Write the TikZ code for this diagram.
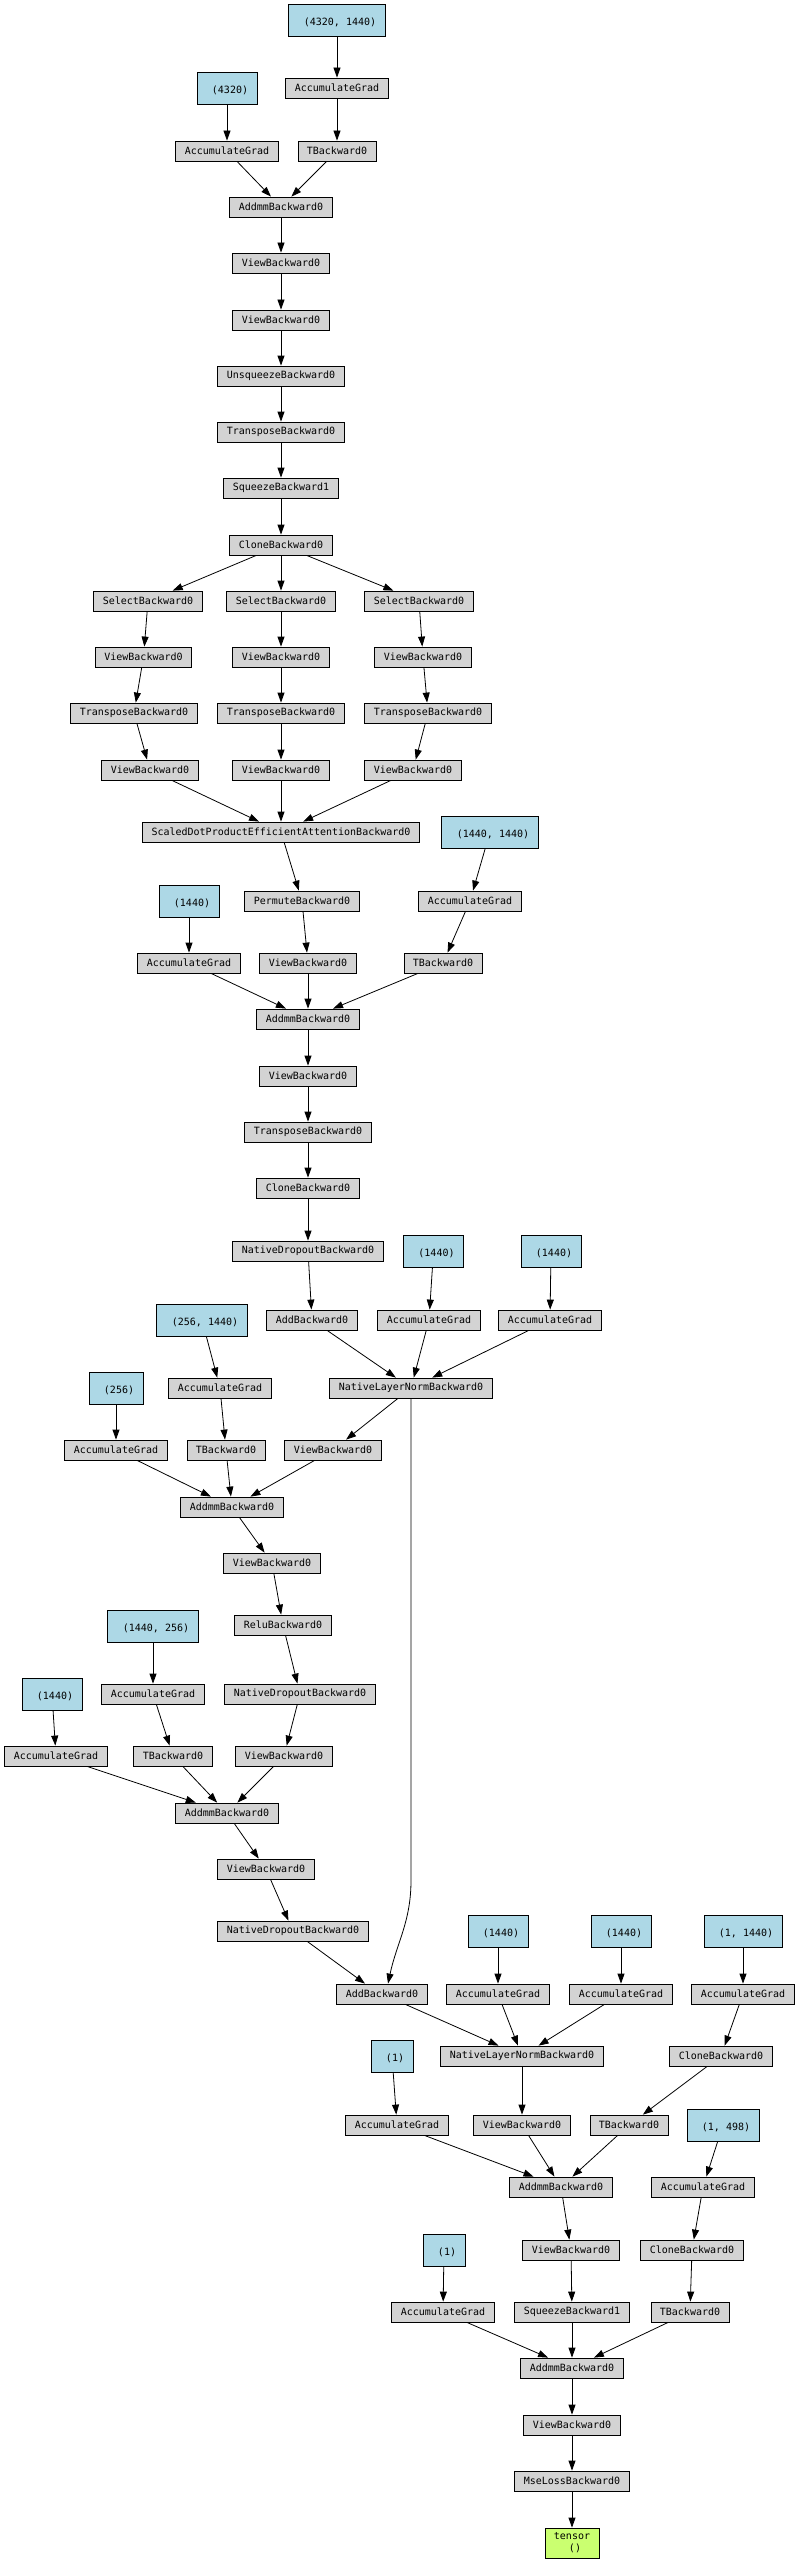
\documentclass[tikz,border=0pt]{standalone}
\usepackage{fontspec}
\setmonofont{DejaVu Sans Mono}
\usetikzlibrary{arrows.meta}
\definecolor{opgray}{RGB}{211,211,211}
\definecolor{paramblue}{RGB}{173,216,230}
\definecolor{outgreen}{RGB}{202,255,112}
\tikzset{
	opbox/.style={draw, line width=0.8pt, fill=opgray, font=\ttfamily\fontsize{10}{12}\selectfont, inner xsep=9pt, inner ysep=0pt, minimum height=20pt},
	parambox/.style={opbox, fill=paramblue, align=center, minimum height=32pt},
	outbox/.style={opbox, fill=outgreen, align=center, minimum height=30pt},
	edge/.style={->, line width=0.8pt}
}
\newcommand{\shp}[1]{\mbox{}\\\hphantom{0}#1}

\begin{document}
\begin{tikzpicture}[x=1pt, y=-1pt, >={Triangle[length=10pt,width=7pt]}]
		\useasboundingbox (0,0) rectangle (795,2563);
		% first linear layer
		\node[parambox] (p1) at (337,20) {\shp{(4320, 1440)}};
		\node[parambox] (p2) at (227,88) {\shp{(4320)}}; \node[opbox] (ag2) at (337,88) {AccumulateGrad};
		\node[opbox] (ag1) at (227,151) {AccumulateGrad}; \node[opbox] (t1) at (337,151) {TBackward0};
		\node[opbox] (addmm1) at (281,207) {AddmmBackward0};
		\node[opbox] (view1) at (281,263) {ViewBackward0};
		\node[opbox] (view2) at (281,320) {ViewBackward0};
		\node[opbox] (unsq) at (281,376) {UnsqueezeBackward0};
		\node[opbox] (tr1) at (281,432) {TransposeBackward0};
		\node[opbox] (sq1) at (281,488) {SqueezeBackward1};
		\node[opbox] (clone1) at (281,545) {CloneBackward0};
		% q, k, v
		\node[opbox] (selL) at (148,601) {SelectBackward0}; \node[opbox] (selM) at (281,601) {SelectBackward0}; \node[opbox] (selR) at (419,601) {SelectBackward0};
		\node[opbox] (viewL) at (143.5,657) {ViewBackward0}; \node[opbox] (viewM) at (281,657) {ViewBackward0}; \node[opbox] (viewR) at (423,657) {ViewBackward0};
		\node[opbox] (trL) at (134,713) {TransposeBackward0}; \node[opbox] (trM) at (281,713) {TransposeBackward0}; \node[opbox] (trR) at (428,713) {TransposeBackward0};
		\node[opbox] (vbL) at (150,770) {ViewBackward0}; \node[opbox] (vbM) at (281,770) {ViewBackward0}; \node[opbox] (vbR) at (413,770) {ViewBackward0};
		\node[opbox] (sdpa) at (281,832) {ScaledDotProductEfficientAttentionBackward0};
		\node[parambox] (p3) at (490,832) {\shp{(1440, 1440)}};
		% out projection
		\node[parambox] (p4) at (189,901) {\shp{(1440)}}; \node[opbox] (perm) at (302,901) {PermuteBackward0}; \node[opbox] (ag3) at (470,901) {AccumulateGrad};
		\node[opbox] (ag4) at (189,963) {AccumulateGrad}; \node[opbox] (view3) at (308,963) {ViewBackward0}; \node[opbox] (t2) at (443,963) {TBackward0};
		\node[opbox] (addmm2) at (308,1019) {AddmmBackward0};
		\node[opbox] (view4) at (308,1076) {ViewBackward0};
		\node[opbox] (tr2) at (308,1132) {TransposeBackward0};
		\node[opbox] (clone2) at (308,1188) {CloneBackward0};
		\node[opbox] (drop1) at (308,1251) {NativeDropoutBackward0};
		\node[parambox] (p5) at (433.5,1251) {\shp{(1440)}}; \node[parambox] (p6) at (551,1251) {\shp{(1440)}};
		% first layer norm
		\node[parambox] (p7) at (202,1320) {\shp{(256, 1440)}};
		\node[opbox] (add1) at (312,1320) {AddBackward0}; \node[opbox] (ag5) at (429,1320) {AccumulateGrad}; \node[opbox] (ag6) at (550,1320) {AccumulateGrad};
		\node[parambox] (p8) at (116,1388) {\shp{(256)}}; \node[opbox] (ag7) at (220,1388) {AccumulateGrad};
		\node[opbox] (nln1) at (411,1388) {NativeLayerNormBackward0};
		\node[opbox] (ag8) at (116,1450) {AccumulateGrad}; \node[opbox] (t3) at (226,1450) {TBackward0}; \node[opbox] (view5) at (333,1450) {ViewBackward0};
		% feed forward
		\node[opbox] (addmm3) at (232,1507) {AddmmBackward0};
		\node[opbox] (view6) at (272,1563) {ViewBackward0};
		\node[parambox] (p9) at (153,1626) {\shp{(1440, 256)}}; \node[opbox] (relu) at (283,1625) {ReluBackward0};
		\node[parambox] (p10) at (52,1694) {\shp{(1440)}}; \node[opbox] (ag9) at (153,1694) {AccumulateGrad}; \node[opbox] (drop2) at (300,1694) {NativeDropoutBackward0};
		\node[opbox] (ag10) at (56,1756) {AccumulateGrad}; \node[opbox] (t4) at (173,1756) {TBackward0}; \node[opbox] (view7) at (284,1756) {ViewBackward0};
		\node[opbox] (addmm4) at (227,1813) {AddmmBackward0};
		\node[opbox] (view8) at (266,1869) {ViewBackward0};
		\node[opbox] (drop3) at (293,1931) {NativeDropoutBackward0};
		\node[parambox] (p11) at (498,1931) {\shp{(1440)}}; \node[parambox] (p12) at (621,1931) {\shp{(1440)}}; \node[parambox] (p13) at (743,1931) {\shp{(1, 1440)}};
		% second layer norm and head
		\node[opbox] (add2) at (382,1994) {AddBackward0}; \node[opbox] (ag11) at (498,1994) {AccumulateGrad}; \node[opbox] (ag12) at (621,1994) {AccumulateGrad}; \node[opbox] (ag13) at (743,1994) {AccumulateGrad};
		\node[parambox] (p14) at (392,2056) {\shp{(1)}}; \node[opbox] (nln2) at (522,2056) {NativeLayerNormBackward0}; \node[opbox] (clone3) at (721,2056) {CloneBackward0};
		\node[opbox] (ag14) at (397,2125) {AccumulateGrad}; \node[opbox] (view9) at (522,2125) {ViewBackward0}; \node[opbox] (t5) at (629,2125) {TBackward0};
		\node[parambox] (p15) at (723,2125) {\shp{(1, 498)}};
		\node[opbox] (addmm5) at (561,2187) {AddmmBackward0}; \node[opbox] (ag15) at (703,2187) {AccumulateGrad};
		\node[parambox] (p16) at (444,2250) {\shp{(1)}}; \node[opbox] (view10) at (571,2250) {ViewBackward0}; \node[opbox] (clone4) at (692,2250) {CloneBackward0};
		\node[opbox] (ag16) at (443,2312) {AccumulateGrad}; \node[opbox] (sq2) at (572,2312) {SqueezeBackward1}; \node[opbox] (t6) at (690,2312) {TBackward0};
		\node[opbox] (addmm6) at (572,2368) {AddmmBackward0};
		\node[opbox] (view11) at (572,2425) {ViewBackward0};
		\node[opbox] (mse) at (572,2481) {MseLossBackward0};
		\node[outbox] (out) at (572,2543) {tensor\\\hphantom{0}()};

		% edges
		\draw[edge] (p1) -- (ag2); \draw[edge] (ag2) -- (t1); \draw[edge] (p2) -- (ag1);
		\draw[edge] (ag1) -- (addmm1); \draw[edge] (t1) -- (addmm1);
		\draw[edge] (addmm1) -- (view1); \draw[edge] (view1) -- (view2); \draw[edge] (view2) -- (unsq); \draw[edge] (unsq) -- (tr1); \draw[edge] (tr1) -- (sq1); \draw[edge] (sq1) -- (clone1);
		\draw[edge] (clone1) -- (selL); \draw[edge] (clone1) -- (selM); \draw[edge] (clone1) -- (selR);
		\draw[edge] (selL) -- (viewL); \draw[edge] (viewL) -- (trL); \draw[edge] (trL) -- (vbL); \draw[edge] (vbL) -- (sdpa);
		\draw[edge] (selM) -- (viewM); \draw[edge] (viewM) -- (trM); \draw[edge] (trM) -- (vbM); \draw[edge] (vbM) -- (sdpa);
		\draw[edge] (selR) -- (viewR); \draw[edge] (viewR) -- (trR); \draw[edge] (trR) -- (vbR); \draw[edge] (vbR) -- (sdpa);
		\draw[edge] (sdpa) -- (perm); \draw[edge] (perm) -- (view3); \draw[edge] (p3) -- (ag3); \draw[edge] (ag3) -- (t2); \draw[edge] (p4) -- (ag4);
		\draw[edge] (ag4) -- (addmm2); \draw[edge] (view3) -- (addmm2); \draw[edge] (t2) -- (addmm2);
		\draw[edge] (addmm2) -- (view4); \draw[edge] (view4) -- (tr2); \draw[edge] (tr2) -- (clone2); \draw[edge] (clone2) -- (drop1); \draw[edge] (drop1) -- (add1);
		\draw[edge] (p5) -- (ag5); \draw[edge] (p6) -- (ag6);
		\draw[edge] (add1) -- (nln1); \draw[edge] (ag5) -- (nln1); \draw[edge] (ag6) -- (nln1);
		\draw[edge] (p7) -- (ag7); \draw[edge] (ag7) -- (t3); \draw[edge] (p8) -- (ag8); \draw[edge] (nln1) -- (view5);
		\draw[edge] (ag8) -- (addmm3); \draw[edge] (t3) -- (addmm3); \draw[edge] (view5) -- (addmm3);
		\draw[edge] (addmm3) -- (view6); \draw[edge] (view6) -- (relu); \draw[edge] (relu) -- (drop2); \draw[edge] (drop2) -- (view7);
		\draw[edge] (p9) -- (ag9); \draw[edge] (ag9) -- (t4); \draw[edge] (p10) -- (ag10);
		\draw[edge] (ag10) -- (addmm4); \draw[edge] (t4) -- (addmm4); \draw[edge] (view7) -- (addmm4);
		\draw[edge] (addmm4) -- (view8); \draw[edge] (view8) -- (drop3); \draw[edge] (drop3) -- ([xshift=-17pt]add2.north);
		\draw[edge] (nln1.south) -- ([yshift=-482pt]nln1.south) to[out=-90,in=78] ([xshift=6pt]add2.north);
		\draw[edge] (p11) -- (ag11); \draw[edge] (p12) -- (ag12); \draw[edge] (p13) -- (ag13); \draw[edge] (ag13) -- (clone3); \draw[edge] (clone3) -- (t5);
		\draw[edge] (add2) -- (nln2); \draw[edge] (ag11) -- (nln2); \draw[edge] (ag12) -- (nln2);
		\draw[edge] (nln2) -- (view9); \draw[edge] (p14) -- (ag14);
		\draw[edge] (ag14) -- (addmm5); \draw[edge] (view9) -- (addmm5); \draw[edge] (t5) -- (addmm5);
		\draw[edge] (p15) -- (ag15); \draw[edge] (ag15) -- (clone4); \draw[edge] (clone4) -- (t6);
		\draw[edge] (addmm5) -- (view10); \draw[edge] (view10) -- (sq2); \draw[edge] (p16) -- (ag16);
		\draw[edge] (ag16) -- (addmm6); \draw[edge] (sq2) -- (addmm6); \draw[edge] (t6) -- (addmm6);
		\draw[edge] (addmm6) -- (view11); \draw[edge] (view11) -- (mse); \draw[edge] (mse) -- (out);
\end{tikzpicture}
\end{document}
